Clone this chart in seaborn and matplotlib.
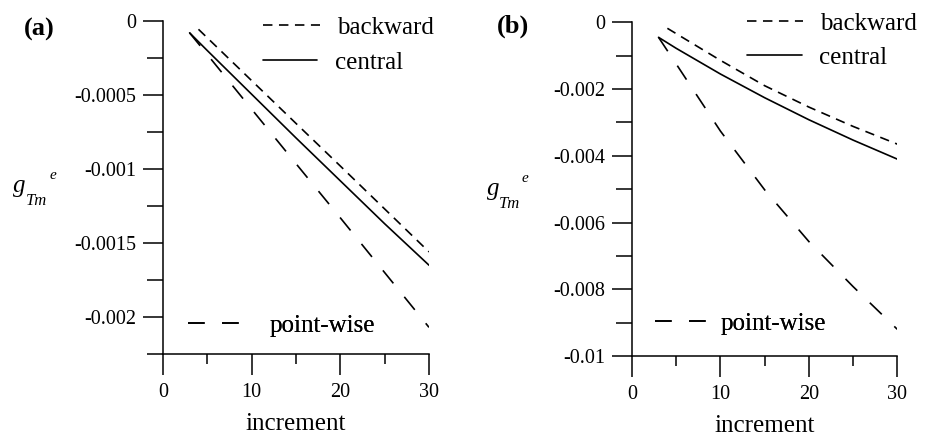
import matplotlib
matplotlib.use("Agg")
import matplotlib.pyplot as plt
import seaborn as sns
from matplotlib.ticker import FixedLocator, FixedFormatter

# ---------------- data ----------------
series_names = ["backward", "central", "point-wise"]
panel_labels = ["(a)", "(b)"]

# panel (a)
a_inc = [3, 5, 10, 15, 20, 25, 30]
a_central = [-0.00008, -0.00020, -0.000495, -0.00079, -0.00108, -0.00137, -0.00165]
a_pointwise = [-0.00008, -0.000227, -0.000596, -0.000964, -0.00133, -0.00170, -0.00207]
a_back_inc = [4, 10, 15, 20, 25, 30]
a_backward = [-0.000056, -0.000403, -0.000692, -0.00098, -0.00127, -0.00156]

# panel (b)
b_inc = [3, 5, 10, 15, 20, 25, 30]
b_central = [-0.00045, -0.00078, -0.00155, -0.00226, -0.00292, -0.00353, -0.0041]
b_pointwise = [-0.00045, -0.00125, -0.00326, -0.00502, -0.00657, -0.00792, -0.0092]
b_back_inc = [4, 5, 10, 15, 20, 25, 30]
b_backward = [-0.00018, -0.00034, -0.00114, -0.0019, -0.00254, -0.00312, -0.00365]

x_ticks = [0, 10, 20, 30]
x_tick_labels = ["0", "10", "20", "30"]
x_minor = [5, 15, 25]
a_yticks = [0, -0.0005, -0.001, -0.0015, -0.002]
a_ytick_labels = ["0", "-0.0005", "-0.001", "-0.0015", "-0.002"]
a_yminor = [-0.00025, -0.00075, -0.00125, -0.00175, -0.00225]
b_yticks = [0, -0.002, -0.004, -0.006, -0.008, -0.01]
b_ytick_labels = ["0", "-0.002", "-0.004", "-0.006", "-0.008", "-0.01"]
b_yminor = [-0.001, -0.003, -0.005, -0.007, -0.009]

# ---------------- style ----------------
sns.set_theme(style="ticks")
plt.rcParams.update({
    "font.family": ["Liberation Serif", "DejaVu Serif"],
    "lines.scale_dashes": False,
    "axes.unicode_minus": False,
    "axes.linewidth": 1.1,
    "axes.edgecolor": "black",
    "axes.labelcolor": "black",
    "xtick.color": "black",
    "ytick.color": "black",
    "xtick.labelcolor": "black",
    "ytick.labelcolor": "black",
    "text.color": "black",
})

W, H = 934, 438
fig = plt.figure(figsize=(W / 100, H / 100), dpi=100)

def fx(px):
    return px / W

def fy(py):
    return 1 - py / H

ax_a = fig.add_axes([fx(163), fy(354), 266 / W, 333 / H])
ax_b = fig.add_axes([fx(632), fy(356), 265.3 / W, 333.7 / H])

back_style = (0, (6.8, 4.7))
point_style = (0, (12.0, 12.5))
LW = 1.2

def draw(ax, inc, back_inc, backward, central, pointwise):
    sns.lineplot(x=back_inc, y=backward, ax=ax, color="black", linewidth=LW,
                 linestyle=back_style, legend=False)
    sns.lineplot(x=inc, y=central, ax=ax, color="black", linewidth=LW,
                 legend=False)
    sns.lineplot(x=inc, y=pointwise, ax=ax, color="black", linewidth=LW,
                 linestyle=point_style, legend=False)
    return ax.lines[0], ax.lines[1], ax.lines[2]

lines_a = draw(ax_a, a_inc, a_back_inc, a_backward, a_central, a_pointwise)
lines_b = draw(ax_b, b_inc, b_back_inc, b_backward, b_central, b_pointwise)

def style_axes(ax, ylim, yticks, ylabels, yminor):
    ax.set_xlim(0, 30)
    ax.set_ylim(*ylim)
    ax.xaxis.set_major_locator(FixedLocator(x_ticks))
    ax.xaxis.set_major_formatter(FixedFormatter(x_tick_labels))
    ax.xaxis.set_minor_locator(FixedLocator(x_minor))
    ax.yaxis.set_major_locator(FixedLocator(yticks))
    ax.yaxis.set_major_formatter(FixedFormatter(ylabels))
    ax.yaxis.set_minor_locator(FixedLocator(yminor))
    ax.tick_params(axis="x", which="major", length=15, width=1.1, direction="out",
                   labelsize=14.5, pad=6)
    ax.tick_params(axis="x", which="minor", length=7.2, width=1.1, direction="out")
    ax.tick_params(axis="y", which="major", length=14.4, width=1.1, direction="out",
                   labelsize=14.5, pad=5)
    ax.tick_params(axis="y", which="minor", length=11.5, width=1.1, direction="out")
    sns.despine(ax=ax)
    ax.set_xlabel("increment", fontsize=18, labelpad=8, color="black")
    ax.set_ylabel("")
    ax.set_facecolor("white")

style_axes(ax_a, (-0.00225, 0), a_yticks, a_ytick_labels, a_yminor)
style_axes(ax_b, (-0.01, 0), b_yticks, b_ytick_labels, b_yminor)

FS = 18
FPX = FS * 100 / 72

def entry(ax, line, label, x0, y0, hl, pad):
    leg = ax.legend([line], [label], loc="center left",
                    bbox_to_anchor=(fx(x0), fy(y0)), bbox_transform=fig.transFigure,
                    frameon=False, borderpad=0, borderaxespad=0,
                    handlelength=hl / FPX, handletextpad=pad / FPX, fontsize=FS,
                    labelcolor="black")
    ax.add_artist(leg)

# legends panel (a)
entry(ax_a, lines_a[0], series_names[0], 263, 27.7, 57, 17)
entry(ax_a, lines_a[1], series_names[1], 263, 62.3, 54, 18)
entry(ax_a, lines_a[2], series_names[2], 188, 325.3, 51, 31)
# legends panel (b)
entry(ax_b, lines_b[0], series_names[0], 747, 23.3, 56, 17)
entry(ax_b, lines_b[1], series_names[1], 747, 57.7, 55, 17)
entry(ax_b, lines_b[2], series_names[2], 655, 323.3, 52, 14)

# y-axis labels  g_Tm^e
def ylab(xg, yg, xt, yt, xe, ye):
    fig.text(fx(xg), fy(yg), "g", fontsize=18, style="italic", va="baseline", ha="left")
    fig.text(fx(xt), fy(yt), "Tm", fontsize=12, style="italic", va="baseline", ha="left")
    fig.text(fx(xe), fy(ye), "e", fontsize=11, style="italic", va="baseline", ha="left")

ylab(13, 192, 26, 205, 50, 179)
ylab(487, 195, 499, 208, 522, 182)

# panel labels
fig.text(fx(24), fy(29), panel_labels[0], fontsize=19, fontweight="bold", va="center", ha="left")
fig.text(fx(497), fy(26), panel_labels[1], fontsize=19, fontweight="bold", va="center", ha="left")

fig.savefig("out.png", dpi=100, facecolor="white")
